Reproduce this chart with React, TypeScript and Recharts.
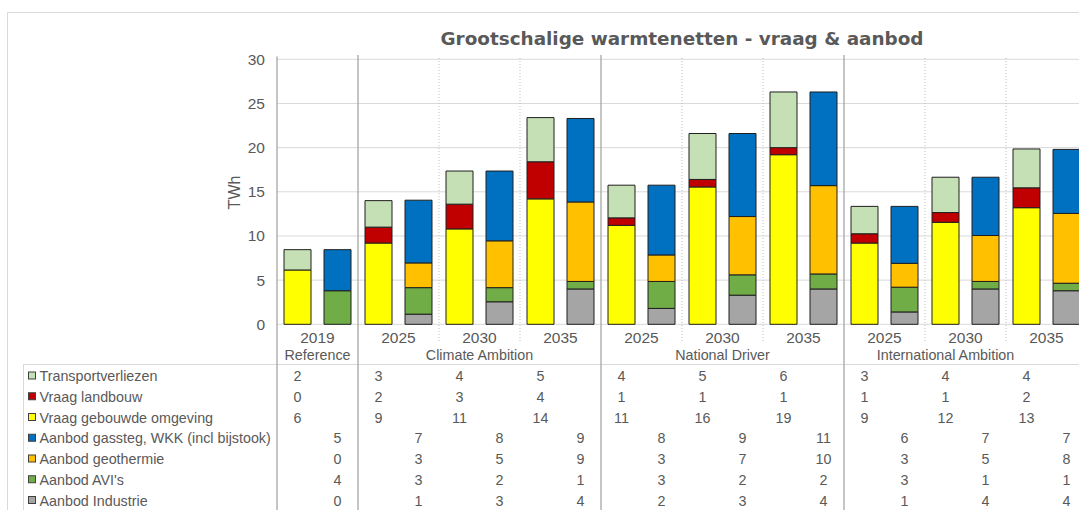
import React from 'react';
import { BarChart, Bar, XAxis, YAxis, CartesianGrid, Customized } from 'recharts';

// ---------- data ----------
const categoryKeys = ['REF-2019', 'CA-2025', 'CA-2030', 'CA-2035', 'ND-2025', 'ND-2030', 'ND-2035', 'IA-2025', 'IA-2030', 'IA-2035'];
const yearLabels = ['2019', '2025', '2030', '2035', '2025', '2030', '2035', '2025', '2030', '2035'];
const scenarioGroups = ['Reference', 'Climate Ambition', 'National Driver', 'International Ambition'];
const groupOfCategory = [0, 1, 1, 1, 2, 2, 2, 3, 3, 3];

// Vraag (demand)
const transportverliezen = [2.3, 3.0, 3.75, 5.0, 3.7, 5.2, 6.3, 3.1, 4.0, 4.4];
const vraagLandbouw = [0, 1.8, 2.8, 4.2, 0.85, 0.85, 0.8, 1.05, 1.1, 2.25];
const vraagGebouwd = [6.15, 9.2, 10.8, 14.2, 11.2, 15.55, 19.2, 9.2, 11.55, 13.2];
// Aanbod (supply)
const aanbodGassteg = [4.65, 7.1, 7.9, 9.45, 7.9, 9.4, 10.6, 6.45, 6.6, 7.25];
const aanbodGeothermie = [0, 2.8, 5.3, 9.0, 3.0, 6.6, 10.0, 2.7, 5.2, 7.9];
const aanbodAVI = [3.8, 3.0, 1.6, 0.85, 3.05, 2.3, 1.7, 2.8, 0.85, 0.85];
const aanbodIndustrie = [0, 1.15, 2.55, 4.0, 1.8, 3.3, 4.0, 1.4, 4.0, 3.8];

const yTicks = [0, 5, 10, 15, 20, 25, 30];
const TITLE = 'Grootschalige warmtenetten - vraag & aanbod';
const Y_LABEL = 'TWh';

// table / legend row order
const series = [
  { key: 'transport', name: 'Transportverliezen', values: transportverliezen, color: '#C5E0B4', stack: 'vraag' },
  { key: 'landbouw', name: 'Vraag landbouw', values: vraagLandbouw, color: '#C00000', stack: 'vraag' },
  { key: 'gebouwd', name: 'Vraag gebouwde omgeving', values: vraagGebouwd, color: '#FFFF00', stack: 'vraag' },
  { key: 'gassteg', name: 'Aanbod gassteg, WKK (incl bijstook)', values: aanbodGassteg, color: '#0070C0', stack: 'aanbod' },
  { key: 'geothermie', name: 'Aanbod geothermie', values: aanbodGeothermie, color: '#FFC000', stack: 'aanbod' },
  { key: 'avi', name: "Aanbod AVI's", values: aanbodAVI, color: '#70AD47', stack: 'aanbod' },
  { key: 'industrie', name: 'Aanbod Industrie', values: aanbodIndustrie, color: '#A5A5A5', stack: 'aanbod' },
];
// stacking order bottom -> top, demand stack first (left bar)
const stackOrder = ['gebouwd', 'landbouw', 'transport', 'industrie', 'avi', 'geothermie', 'gassteg'];

const data = categoryKeys.map((k, i) => {
  const row: Record<string, any> = { key: k };
  series.forEach((s) => { row[s.key] = s.values[i]; });
  return row;
});

// ---------- layout / style ----------
const W = 1100;
const H = 510;
const PLOT_LEFT = 277;
const PLOT_TOP = 59.3;
const PLOT_BOTTOM = 324.3;
const BAR_SIZE = 27;
const BAR_GAP = 13;
const FONT = '"Liberation Sans", Arial, sans-serif';
const TEXT = '#595959';
const FRAME = '#D9D9D9';
const AXIS = '#A6A6A6';
const ROW_BASE = 381;
const ROW_STEP = 20.75;
const TABLE_TOP = 364.5;
const groupLabelDx = [0, 0, 0, -20];

const CategoryTick = (props: any) => {
  const { x, payload } = props;
  const i: number = props.index ?? payload?.index ?? 0;
  const half: number = payload?.offset ?? 40.5;
  const left = x - half;
  const g = groupOfCategory[i];
  const firstOfGroup = i === 0 || groupOfCategory[i - 1] !== g;
  const members = groupOfCategory.map((gg, j) => (gg === g ? j : -1)).filter((j) => j >= 0);
  const middle = members[Math.floor(members.length / 2)];
  const pairOffset = (BAR_SIZE + BAR_GAP) / 2;
  return (
    <g>
      {i > 0 && firstOfGroup && (
        <line x1={left} x2={left} y1={55} y2={H} stroke={AXIS} strokeWidth={1.3} />
      )}
      {i > 0 && !firstOfGroup && (
        <line x1={left} x2={left} y1={58} y2={343} stroke="#BFBFBF" strokeWidth={1} strokeDasharray="1 2" />
      )}
      <text x={x} y={342.5} textAnchor="middle" fill={TEXT} fontSize={15.5} fontFamily={FONT}>
        {yearLabels[i]}
      </text>
      {i === middle && (
        <text x={x + groupLabelDx[g]} y={360} textAnchor="middle" fill={TEXT} fontSize={14.3} fontFamily={FONT}>
          {scenarioGroups[g]}
        </text>
      )}
      {series.map((s, r) => (
        <text
          key={s.key}
          x={s.stack === 'vraag' ? x - pairOffset : x + pairOffset}
          y={ROW_BASE + r * ROW_STEP}
          textAnchor="middle"
          fill={TEXT}
          fontSize={14.3}
          fontFamily={FONT}
        >
          {Math.round(s.values[i])}
        </text>
      ))}
    </g>
  );
};

const Overlay = () => (
  <g>
    {/* outer frame */}
    <line x1={7.5} x2={W} y1={12.5} y2={12.5} stroke={FRAME} strokeWidth={1} />
    <line x1={7.5} x2={7.5} y1={12.5} y2={H} stroke={FRAME} strokeWidth={1} />
    {/* title */}
    <text x={682} y={45} textAnchor="middle" fill={TEXT} fontSize={18.4} fontWeight="bold" fontFamily='"DejaVu Sans", Verdana, sans-serif'>
      {TITLE}
    </text>
    {/* y label */}
    <text
      x={0}
      y={0}
      transform={`translate(240, 192.5) rotate(-90)`}
      textAnchor="middle"
      fill={TEXT}
      fontSize={16}
      fontFamily={FONT}
    >
      {Y_LABEL}
    </text>
    {/* data table frame */}
    <line x1={23} x2={W} y1={TABLE_TOP} y2={TABLE_TOP} stroke={FRAME} strokeWidth={1} />
    <line x1={23.5} x2={23.5} y1={TABLE_TOP} y2={H} stroke={FRAME} strokeWidth={1} />
    {/* y axis line extended through table */}
    <line x1={PLOT_LEFT} x2={PLOT_LEFT} y1={56.5} y2={H} stroke={AXIS} strokeWidth={1.3} />
    {/* legend keys */}
    {series.map((s, r) => (
      <g key={s.key}>
        <rect x={28.5} y={ROW_BASE + r * ROW_STEP - 9} width={7} height={7} fill={s.color} stroke="#404040" strokeWidth={1} />
        <text x={39.5} y={ROW_BASE + r * ROW_STEP} fill={TEXT} fontSize={14.3} fontFamily={FONT}>
          {s.name}
        </text>
      </g>
    ))}
  </g>
);

export default function App() {
  const byKey: Record<string, (typeof series)[number]> = {};
  series.forEach((s) => { byKey[s.key] = s; });
  return (
    <div style={{ position: 'fixed', left: 0, top: 0, width: 1079, height: 510, overflow: 'hidden', background: '#fff' }}>
      <BarChart
        width={W}
        height={H}
        data={data}
        margin={{ top: PLOT_TOP, right: W - 1087, bottom: 0, left: 0 }}
        barSize={BAR_SIZE}
        barGap={BAR_GAP}
      >
        <CartesianGrid vertical={false} stroke={FRAME} strokeWidth={1} />
        <XAxis
          dataKey="key"
          interval={0}
          axisLine={false}
          tickLine={false}
          height={H - PLOT_BOTTOM - PLOT_TOP * 0}
          tick={<CategoryTick />}
        />
        <YAxis
          width={PLOT_LEFT}
          domain={[0, 30]}
          ticks={yTicks}
          axisLine={false}
          tickLine={false}
          tickMargin={6}
          tick={{ fill: TEXT, fontSize: 15.5, fontFamily: FONT }}
        />
        <Customized component={Overlay} />
        {stackOrder.map((k) => (
          <Bar
            key={k}
            dataKey={k}
            name={byKey[k].name}
            stackId={byKey[k].stack}
            fill={byKey[k].color}
            stroke="#1F1F1F"
            strokeWidth={1}
            isAnimationActive={false}
          />
        ))}
      </BarChart>
    </div>
  );
}
